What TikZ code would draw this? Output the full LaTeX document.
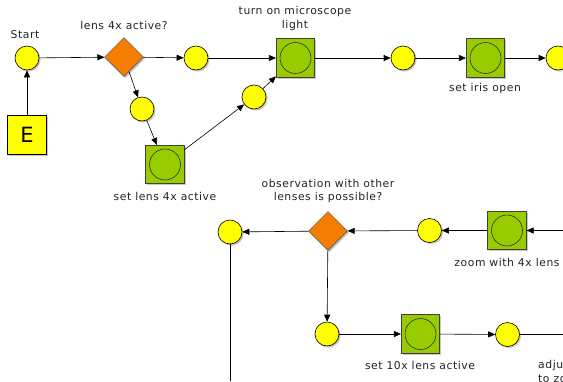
\documentclass[tikz,border=0pt]{standalone}
\usepackage{fontspec}
\setmainfont{DejaVu Sans}[LetterSpace=5]
\usetikzlibrary{shapes.geometric,arrows.meta,shadows}
\definecolor{boxgreen}{HTML}{99CC00}
\definecolor{dmorange}{HTML}{F47C00}
\definecolor{ballyellow}{HTML}{FFFF00}
\definecolor{lbltext}{HTML}{22222E}
\begin{document}
\begin{tikzpicture}[x=1pt,y=-1pt,
  shd/.style={drop shadow={shadow xshift=1.6pt,shadow yshift=-1.6pt,fill=black!22,opacity=1}},
  lbl/.style={font=\fontsize{10.8}{13.5}\selectfont, text=lbltext, align=center, inner sep=0pt},
  yc/.style={circle, draw=black, fill=ballyellow, minimum size=24pt, inner sep=0pt, line width=0.6pt, shd},
  gb/.style={rectangle, draw=black!75, fill=boxgreen, minimum size=38.5pt, inner sep=0pt, line width=0.6pt, shd,
     path picture={\draw[black!85, line width=0.55pt] (path picture bounding box.center) circle (15.5pt);}},
  dm/.style={diamond, draw=black!70, fill=dmorange, minimum width=39pt, minimum height=39pt, inner sep=0pt, line width=0.5pt, shd},
  arr/.style={-{Triangle[length=7pt,width=6pt]}, line width=0.6pt},
  ln/.style={line width=0.6pt}
]
\useasboundingbox (0,0) rectangle (563,381);
\clip (0,0) rectangle (563,381);

% row 1
\node[yc] (start) at (27,58) {};
\node[rectangle, draw=black, fill=ballyellow, minimum size=39pt, inner sep=0pt, line width=0.6pt, shd,
      font=\fontsize{21}{21}\selectfont] (E) at (27,134.5) {E};
\node[dm] (d1) at (124,57) {};
\node[yc] (c1) at (196,58) {};
\node[yc] (c2) at (142,109) {};
\node[gb] (b1) at (165,164.5) {};
\node[yc] (c3) at (254,97) {};
\node[gb] (b2) at (295.5,58) {};
\node[yc] (c4) at (403,58) {};
\node[gb] (b3) at (485.5,58) {};
\node[yc] (c5) at (558,58) {};

% row 2
\node[dm] (d2) at (328,231) {};
\node[yc] (c6) at (230,232) {};
\node[yc] (c7) at (429.5,230.5) {};
\node[gb] (b4) at (507,230.5) {};
\coordinate (in2) at (563,230.5);
\coordinate (out6) at (230,381);

% row 3
\node[yc] (c8) at (327,334) {};
\node[gb] (b5) at (420.5,334) {};
\node[yc] (c9) at (507.5,334.5) {};
\coordinate (out9) at (563,334.5);

% labels
\node[lbl] (l0) at (25,35) {Start};
\node[lbl] (l1) at (124,25) {lens 4x active?};
\node[lbl] (l2) at (295,18.5) {turn on microscope\\light};
\node[lbl] (l3) at (165,196) {set lens 4x active};
\node[lbl] (l4) at (485,89) {set iris open};
\node[lbl] (l5) at (328,191) {observation with other\\lenses is possible?};
\node[lbl] (l6) at (507,262) {zoom with 4x lens};
\node[lbl] (l7) at (420,365) {set 10x lens active};
\node[lbl, align=left, anchor=west] (l8) at (538,371.5) {adju\\to zo};

% connectors
\draw[arr] (E) -- (start);
\draw[arr] (start) -- (d1);
\draw[arr] (d1) -- (c1);
\draw[arr] (c1) -- (b2);
\draw[arr] (b2) -- (c4);
\draw[arr] (c4) -- (b3);
\draw[arr] (b3) -- (c5);
\draw[arr] (d1) -- (c2);
\draw[arr] (c2) -- (b1);
\draw[arr] (b1) -- (c3);
\draw[arr] (c3) -- (b2);

\draw[arr] (in2) -- (b4);
\draw[arr] (b4) -- (c7);
\draw[arr] (c7) -- (d2);
\draw[arr] (d2) -- (c6);
\draw[ln] (c6) -- (out6);
\draw[arr] (d2) -- (c8);
\draw[arr] (c8) -- (b5);
\draw[arr] (b5) -- (c9);
\draw[ln] (c9) -- (out9);
\end{tikzpicture}
\end{document}
